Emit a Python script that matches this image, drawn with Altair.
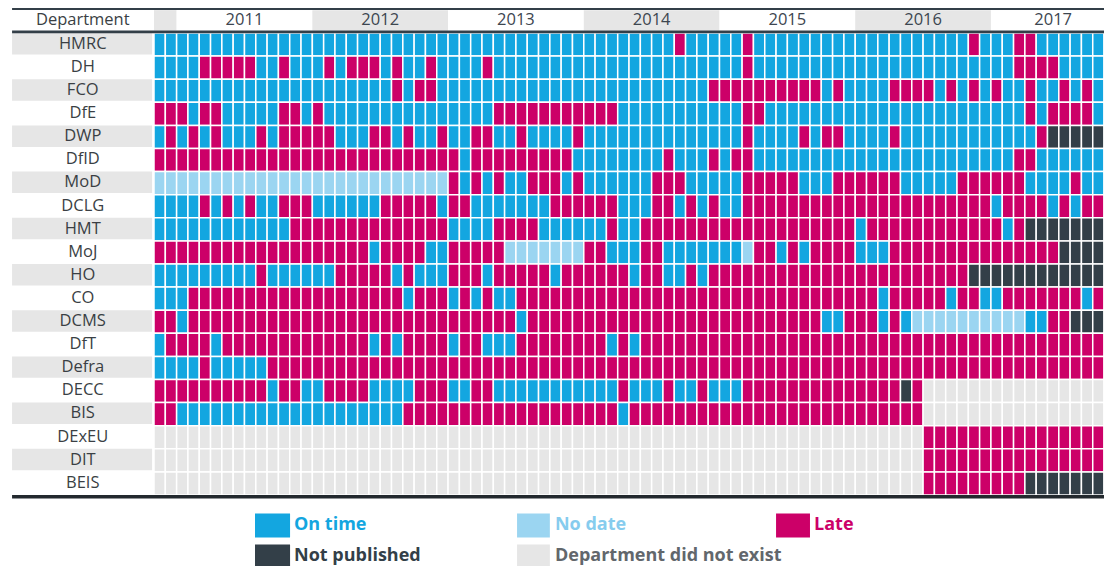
import altair as alt
import pandas as pd

# ---------------- data ----------------
departments = ["HMRC", "DH", "FCO", "DfE", "DWP", "DfID", "MoD", "DCLG", "HMT", "MoJ",
               "HO", "CO", "DCMS", "DfT", "Defra", "DECC", "BIS", "DExEU", "DIT", "BEIS"]

# one character per month, Nov 2010 .. Nov 2017, grouped: Nov-Dec 2010 | 2011 | ... | 2017
# O = on time, N = no date, L = late, U = not published, X = department did not exist
status_rows = [
    "OO OOOOOOOOOOOO OOOOOOOOOOOO OOOOOOOOOOOO OOOOOOOOLOOO OOLOOOOOOOOO OOOOOOOOOOLO OOLLOOOOOOO",  # HMRC
    "OO OOLLLLLOOLOO OLOLLLOLOOLO OOOLOOOOOOOO OOOOOOOOOOOO OOLOOOOOOOOO OOOOOOOOOOOO OOLLLLOOOOO",  # DH
    "OO OOOOOOOOOOOO OOOOOOOLOLLO OOOOOOOOOOOO OOOOOOOOOOOL LLLLLLLLLOLO OOOLLLLOLOLO LOOLOOLOLOO",  # FCO
    "LL LOLLOOOOOLLO LOOOOOOOOOOO OOOOLLLLLLLL LLLOOOOOOOOO OOLLOOOOOOOO OOOOOOOOOOOO OOOLOLLLLOU",  # DfE
    "OL OLOLOOOLOLLL LLOOOLLOLOOL OOLLOOLOOOOL OOOOOOOOOOOO OOLOOOOLOLLO OOOLOOOOOOOO OOOOLUUUUUU",  # DWP
    "LL LLLLLLLLLLLL LLLLLLLLLLLL LOLLLLLLLLLO OOOOOOOLOOOL OLLOOOOOOOOO OOOOOOOOOOOO OOLLOOOOOOO",  # DfID
    "NN NNNNNNNNNNNN NNNNNNNNNNNN LOLOLOOLLLOL OOOOOOLLLOOO OOLLLLLOOOLL LLLLOOOOOLLL LLLOOOOLOOU",  # MoD
    "OO OOLOLOLOOLLL OOOOOOLLLLLO LLOOOOOOOLLL LLLOOOLLOLOL OOLLLLLLLLLL LLLLLLLLLLLL OLLLLOLOLLO",  # DCLG
    "OO OOOOOOOOOOLL LLLLLLLLLLLL OOOOLLLLOOOO OOLOOLLLLLLL LLLLLLLLLLLL OLLLLLLLLLLL LOLUUUUUUUU",  # HMT
    "LL LLLLLLLLLLLL LLLLLOLLLLOO LLLLLNNNNNNN LLOOOLLOOOOO OONLLOLOLLLL OOOLLLLLLLLL LLLLLLUUUUU",  # MoJ
    "OO OOOOOOOLOOOO OOLLLLLOLOOO LLLOLLLLLOLL LLLLOLLOOLOL LLLLLLLLLLLL LLLLLLLLLLUU UUUUUUUUUUU",  # HO
    "OO OLLLLLLLLLLL LLLLLLLLOLLL OLOLOOLLLLLL LLLLLLLLLLLL LLLLLLLLLLLL LLOLLLLLOLLO OLLLLLLLOLU",  # CO
    "LL OLLLLLLLLLLL LLLLLLLLLLLL LLLLLLOLLLLL LLLLLLLLLLLL LLLLLLLLLOOL LLOLONNNNNNN NNNOOLLUUUU",  # DCMS
    "OL LLLOLLLLLLLL LLLLLOLOLLLL OLLOOOLLLLLL LLOLOLLLLLLL LLLLLLLLLLLL LLLLLLLLLLLL LLLLLLLLLLU",  # DfT
    "OO OOLOOOOOLLLL LLLLLLLLLLLL LLLLLLLLLLLL LLLLLLLLLLLL LLLLLLLLLLLL LLLLLLLLLLLL LLLLLLLLLLU",  # Defra
    "LL LLLLLLLLOLLO OLLLLOOOOLLL OOLLOOOOOOOO OOOLOOOLOOLO OOLLLLLLLLLL LLLLULXXXXXX XXXXXXXXXXX",  # DECC
    "LL OOOOOOOOOOOO OOOOOOOOLLLL LLLLLLLLLLLL LLLOLLLLLLLL LLLLLLLLLLLL LLLLLLXXXXXX XXXXXXXXXXX",  # BIS
    "XX XXXXXXXXXXXX XXXXXXXXXXXX XXXXXXXXXXXX XXXXXXXXXXXX XXXXXXXXXXXX XXXXXXLLLLLL LLLLLLLLLLU",  # DExEU
    "XX XXXXXXXXXXXX XXXXXXXXXXXX XXXXXXXXXXXX XXXXXXXXXXXX XXXXXXXXXXXX XXXXXXLLLLLL LLLLLLLLLLU",  # DIT
    "XX XXXXXXXXXXXX XXXXXXXXXXXX XXXXXXXXXXXX XXXXXXXXXXXX XXXXXXXXXXXX XXXXXXLLLLLL LLLUUUUUUUU",  # BEIS
]

years = ["2011", "2012", "2013", "2014", "2015", "2016", "2017"]
year_start_col = [2, 14, 26, 38, 50, 62, 74]
year_end_col = [14, 26, 38, 50, 62, 74, 85]

status_codes = ["O", "N", "L", "U", "X"]
status_labels = ["On time", "No date", "Late", "Not published", "Department did not exist"]
status_colors = ["#13a6e0", "#9bd5f1", "#cc0068", "#333f48", "#e6e6e6"]
legend_text_colors = ["#13a6e0", "#86ccee", "#cc0068", "#333f48", "#62676c"]

# ---------------- layout (column / row units) ----------------
# page fits exactly in the window: chart 1096 x 558 at 8px margin
X_MIN, X_MAX = -12.909, 83.996
Y_MIN, Y_MAX = -1.082, 23.074
LABEL_X0, LABEL_X1, LABEL_XC = -12.55, -0.17, -6.3
FONT = "Open Sans"

color_of = dict(zip(status_codes, status_colors))

cells = []
for r, (dept, s) in enumerate(zip(departments, status_rows)):
    s = s.replace(" ", "")
    for c, ch in enumerate(s):
        cells.append({"dept": dept, "c": c, "c2": c + 1, "r": r, "r2": r + 1,
                      "fill": color_of[ch]})
cells = pd.DataFrame(cells)

label_bands = pd.DataFrame({
    "x": [LABEL_X0] * len(departments), "x2": [LABEL_X1] * len(departments),
    "y": [r for r in range(len(departments))],
    "y2": [r + 0.93 for r in range(len(departments))],
    "fill": ["#e6e6e6" if r % 2 == 0 else "#ffffff" for r in range(len(departments))],
    "label": departments,
    "ty": [r + 0.47 for r in range(len(departments))],
    "tx": [LABEL_XC] * len(departments),
})

header = pd.DataFrame({
    "x": [0] + year_start_col, "x2": [2] + year_end_col,
    "label": [""] + years,
    "fill": ["#e6e6e6", "#ffffff", "#e6e6e6", "#ffffff", "#e6e6e6", "#ffffff", "#e6e6e6", "#ffffff"],
})
header["xc"] = (header["x"] + header["x2"]) / 2
header["y"] = -0.99
header["y2"] = -0.1
header["ty"] = -0.56

dept_head = pd.DataFrame({"x": [LABEL_XC], "y": [-0.56], "label": ["Department"]})

rules = pd.DataFrame({
    "x": [LABEL_X0] * 3, "x2": [X_MAX] * 3,
    "y": [-1.04, -0.045, 20.075],
    "w": [2.0, 2.8, 3.5],
    "col": ["#333f48", "#333f48", "#23292e"],
})

legend = pd.DataFrame({
    "label": status_labels,
    "fill": status_colors,
    "tcol": legend_text_colors,
    "x": [8.93, 32.1, 55.0, 8.93, 32.1],
    "x2": [12.03, 35.0, 58.0, 12.03, 35.0],
    "y": [20.80, 20.80, 20.80, 22.14, 22.14],
    "y2": [21.84, 21.84, 21.84, 23.07, 23.07],
    "tx": [12.38, 35.45, 58.36, 12.38, 35.45],
    "ty": [21.32, 21.32, 21.32, 22.63, 22.63],
})

xs = alt.Scale(domain=[X_MIN, X_MAX], nice=False, zero=False)
ys = alt.Scale(domain=[Y_MIN, Y_MAX], nice=False, zero=False, reverse=True)


def X(f):
    return alt.X(f"{f}:Q", scale=xs, axis=None)


def Y(f):
    return alt.Y(f"{f}:Q", scale=ys, axis=None)


lab_bg = alt.Chart(label_bands).mark_rect().encode(
    x=X("x"), x2="x2", y=Y("y"), y2="y2", color=alt.Color("fill:N", scale=None))
lab_txt = alt.Chart(label_bands).mark_text(
    font=FONT, fontSize=16.5, color="#3a3f44", align="center", baseline="middle").encode(
    x=X("tx"), y=Y("ty"), text="label:N")

head_bg = alt.Chart(header).mark_rect(clip=True).encode(
    x=X("x"), x2="x2", y=Y("y"), y2="y2", color=alt.Color("fill:N", scale=None))
head_txt = alt.Chart(header).mark_text(
    font=FONT, fontSize=16.5, color="#3d4650", align="center", baseline="middle").encode(
    x=X("xc"), y=Y("ty"), text="label:N")
dept_txt = alt.Chart(dept_head).mark_text(
    font=FONT, fontSize=16.5, color="#3a3f44", align="center", baseline="middle").encode(
    x=X("x"), y=Y("y"), text="label:N")

grid = alt.Chart(cells).mark_rect(stroke="white", strokeWidth=1.5, clip=True).encode(
    x=X("c"), x2="c2", y=Y("r"), y2="r2", color=alt.Color("fill:N", scale=None),
    tooltip=["dept:N"])

lines = alt.Chart(rules).mark_rule(clip=True).encode(
    x=X("x"), x2="x2", y=Y("y"),
    strokeWidth=alt.StrokeWidth("w:Q", scale=None),
    color=alt.Color("col:N", scale=None))

leg_sq = alt.Chart(legend).mark_rect(clip=True).encode(
    x=X("x"), x2="x2", y=Y("y"), y2="y2", color=alt.Color("fill:N", scale=None))
leg_txt = alt.Chart(legend).mark_text(
    font=FONT, fontSize=18, fontWeight="bold", align="left", baseline="middle").encode(
    x=X("tx"), y=Y("ty"), text="label:N", color=alt.Color("tcol:N", scale=None))

chart = alt.layer(
    lab_bg, lab_txt, head_bg, head_txt, dept_txt, grid, lines, leg_sq, leg_txt
).properties(
    width=1096, height=558, padding=0,
    autosize=alt.AutoSizeParams(type="none"),
    background="white",
).configure_view(strokeWidth=0)

chart.save("out.html", embed_options={"renderer": "svg", "actions": False})
